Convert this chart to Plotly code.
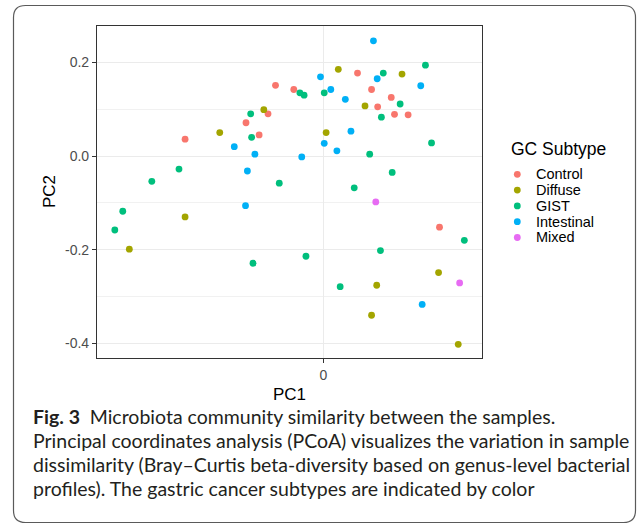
import plotly.graph_objects as go

W, H = 637, 524

# ---- data (PCoA coordinates) ----
subtypes = ["Control", "Diffuse", "GIST", "Intestinal", "Mixed"]
colors = ["#F8766D", "#A3A500", "#00BF7D", "#00B0F6", "#E76BF3"]

control_pc1 = [-0.295, 0.073, -0.102, -0.063, -0.118, -0.165, -0.137, 0.103, 0.145, 0.116, 0.152, 0.181, 0.248]
control_pc2 = [0.036, 0.177, 0.151, 0.142, 0.090, 0.071, 0.045, 0.142, 0.125, 0.105, 0.089, 0.088, -0.152]

diffuse_pc1 = [-0.221, 0.032, -0.127, 0.006, 0.168, 0.089, -0.295, -0.414, 0.246, 0.114, 0.103, 0.288]
diffuse_pc2 = [0.050, 0.185, 0.099, 0.050, 0.175, 0.107, -0.130, -0.199, -0.249, -0.276, -0.340, -0.402]

gist_pc1 = [-0.308, -0.366, -0.050, -0.041, 0.002, -0.155, -0.153, -0.094, 0.066, 0.218, 0.128, 0.164,
            0.124, 0.231, 0.099, 0.147, -0.428, -0.445, -0.150, -0.037, 0.036, 0.301, 0.122]
gist_pc2 = [-0.028, -0.054, 0.135, 0.130, 0.135, 0.090, 0.040, -0.058, -0.068, 0.194, 0.177, 0.111,
            0.083, 0.028, 0.004, -0.035, -0.118, -0.158, -0.229, -0.214, -0.279, -0.180, -0.202]

intestinal_pc1 = [-0.006, 0.016, 0.047, 0.059, -0.190, 0.002, -0.146, 0.029, -0.046, -0.162, 0.107, 0.115,
                  0.208, -0.166, 0.211]
intestinal_pc2 = [0.169, 0.142, 0.121, 0.053, 0.020, 0.027, 0.004, 0.011, -0.002, -0.032, 0.246, 0.165,
                  0.150, -0.106, -0.317]

mixed_pc1 = [0.112, 0.291]
mixed_pc2 = [-0.098, -0.271]

y_tickvals = [-0.4, -0.2, 0.0, 0.2]
y_ticktext = ["-0.4", "-0.2", "0.0", "0.2"]
y_minor = [-0.3, -0.1, 0.1]
x_tickvals = [0]
x_ticktext = ["0"]

caption_lines = [
    "<b>Fig. 3</b>\u2002Microbiota community similarity between the samples.",
    "Principal coordinates analysis (PCoA) visualizes the variation in sample",
    "dissimilarity (Bray\u2013Curtis beta-diversity based on genus-level bacterial",
    "profiles). The gastric cancer subtypes are indicated by color",
]

series_x = [control_pc1, diffuse_pc1, gist_pc1, intestinal_pc1, mixed_pc1]
series_y = [control_pc2, diffuse_pc2, gist_pc2, intestinal_pc2, mixed_pc2]

# ---- layout helpers (pixel -> paper) ----
def px(x):
    return x / W

def py(y):
    return 1 - y / H

fig = go.Figure()
for name, col, xs, ys in zip(subtypes, colors, series_x, series_y):
    fig.add_trace(go.Scatter(
        x=xs, y=ys, mode="markers", name=name, showlegend=False,
        marker=dict(color=col, size=6.8, line=dict(width=0)),
        xaxis="x", yaxis="y",
    ))

# custom legend (ggplot-like compact spacing) on hidden helper axes
fig.add_trace(go.Scatter(
    x=[0] * len(subtypes), y=list(range(len(subtypes))), mode="markers",
    marker=dict(color=colors, size=6.8, line=dict(width=0)),
    showlegend=False, hoverinfo="skip", xaxis="x2", yaxis="y2",
))

font_main = "Liberation Sans, Arial, sans-serif"
axis_line = "#333333"

annotations = []
for i, name in enumerate(subtypes):
    annotations.append(dict(
        text=name, x=px(534), xref="paper", y=i, yref="y2",
        xanchor="left", yanchor="middle", showarrow=False,
        font=dict(family=font_main, size=14.5, color="#000000"),
    ))
annotations.append(dict(
    text="GC Subtype", x=px(509), xref="paper", y=py(149), yref="paper",
    xanchor="left", yanchor="middle", showarrow=False,
    font=dict(family=font_main, size=17.5, color="#000000"),
))
annotations.append(dict(
    text="PC1", x=px(289.5), xref="paper", y=py(394), yref="paper",
    xanchor="center", yanchor="middle", showarrow=False,
    font=dict(family=font_main, size=17, color="#000000"),
))
annotations.append(dict(
    text="PC2", x=px(50), xref="paper", y=py(192), yref="paper",
    xanchor="center", yanchor="middle", showarrow=False, textangle=-90,
    font=dict(family=font_main, size=17, color="#000000"),
))
caption_y = [416, 440, 464, 488]
for line, yy in zip(caption_lines, caption_y):
    annotations.append(dict(
        text=line, x=px(31), xref="paper", y=py(yy), yref="paper",
        xanchor="left", yanchor="middle", align="left", showarrow=False,
        font=dict(family="Lato, sans-serif", size=19.5, color="#231F20"),
    ))

# rounded outer frame
x0, x1, y0, y1, r = px(13.5), px(635.5), py(5.5), py(522.5), 12
rx, ry = r / W, r / H
frame = (f"M {x0+rx},{y0} L {x1-rx},{y0} Q {x1},{y0} {x1},{y0-ry} "
         f"L {x1},{y1+ry} Q {x1},{y1} {x1-rx},{y1} "
         f"L {x0+rx},{y1} Q {x0},{y1} {x0},{y1+ry} "
         f"L {x0},{y0-ry} Q {x0},{y0} {x0+rx},{y0} Z")

fig.update_layout(
    width=W, height=H, autosize=False,
    margin=dict(l=0, r=0, t=0, b=0, pad=0),
    paper_bgcolor="white", plot_bgcolor="white",
    showlegend=False,
    xaxis=dict(
        domain=[px(97), px(482)], range=[-0.483, 0.3387],
        tickvals=x_tickvals, ticktext=x_ticktext,
        ticks="outside", ticklen=4, tickwidth=1.1, tickcolor=axis_line,
        tickfont=dict(family=font_main, size=14, color="#4D4D4D"),
        showgrid=True, gridcolor="#EBEBEB", gridwidth=1.3,
        zeroline=False, showline=True, mirror=True, linecolor=axis_line, linewidth=1.1,
        anchor="y",
    ),
    yaxis=dict(
        domain=[py(358), py(26)], range=[-0.4313, 0.2776],
        tickvals=y_tickvals, ticktext=y_ticktext,
        ticks="outside", ticklen=4, tickwidth=1.1, tickcolor=axis_line,
        tickfont=dict(family=font_main, size=14, color="#4D4D4D"),
        showgrid=True, gridcolor="#EBEBEB", gridwidth=1.3,
        minor=dict(tickvals=y_minor, showgrid=True, gridcolor="#F1F1F1", gridwidth=1, ticks=""),
        zeroline=False, showline=True, mirror=True, linecolor=axis_line, linewidth=1.1,
        anchor="x",
    ),
    xaxis2=dict(domain=[px(511), px(523.6)], range=[-1, 1], visible=False, anchor="y2", fixedrange=True),
    yaxis2=dict(domain=[py(245.4), py(166.4)], range=[len(subtypes) - 0.5, -0.5], visible=False,
                anchor="x2", fixedrange=True),
    annotations=annotations,
    shapes=[dict(type="path", path=frame, xref="paper", yref="paper",
                 line=dict(color="#5A5A5A", width=1.2), layer="above")],
)

fig.write_html("out.html")
